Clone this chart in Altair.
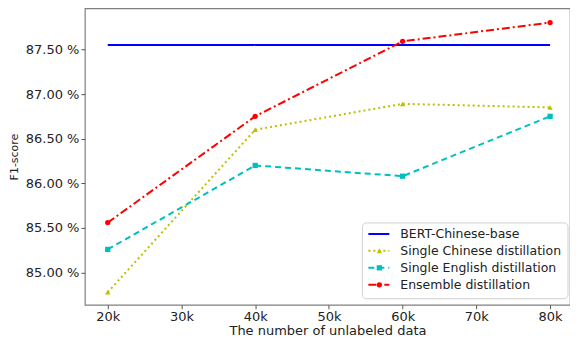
import altair as alt
import pandas as pd

x_k = [20, 40, 60, 80]
bert = [87.55, 87.55, 87.55, 87.55]
chinese = [84.78, 86.60, 86.89, 86.85]
english = [85.26, 86.20, 86.08, 86.75]
ensemble = [85.56, 86.75, 87.59, 87.80]

names = ["BERT-Chinese-base", "Single Chinese distillation",
         "Single English distillation", "Ensemble distillation"]
colors = ["#0000ff", "#bfbf00", "#00bfbf", "#ff0000"]
dashes = [[1, 0], [2, 3], [6, 4], [8, 3, 2, 3]]
shapes = ["circle", "triangle-up", "square", "circle"]

rows = []
for name, vals in zip(names, [bert, chinese, english, ensemble]):
    for x, v in zip(x_k, vals):
        rows.append({"x": x, "y": v, "series": name})
df = pd.DataFrame(rows)
legdf = pd.DataFrame({"series": names})

W, H = 486, 297

cscale = alt.Scale(domain=names, range=colors)
dscale = alt.Scale(domain=names, range=dashes)
sscale = alt.Scale(domain=names, range=shapes)

xs = alt.X("x:Q", scale=alt.Scale(domain=[16.9, 82.7], nice=False, zero=False),
           axis=alt.Axis(values=[20, 30, 40, 50, 60, 70, 80], labelExpr="datum.value + 'k'",
                         title="The number of unlabeled data", grid=False, titlePadding=1))
ys = alt.Y("y:Q", scale=alt.Scale(domain=[84.64, 87.96], nice=False, zero=False),
           axis=alt.Axis(values=[85.0, 85.5, 86.0, 86.5, 87.0, 87.5],
                         labelExpr="format(datum.value, '.2f') + ' %'",
                         title="F1-score", grid=False))

lines = alt.Chart(df).mark_line(strokeWidth=2).encode(
    x=xs, y=ys,
    color=alt.Color("series:N", scale=cscale, legend=None),
    strokeDash=alt.StrokeDash("series:N", scale=dscale, legend=None))
pts = alt.Chart(df[df.series != names[0]]).mark_point(filled=True, size=28, opacity=1).encode(
    x=xs, y=ys,
    color=alt.Color("series:N", scale=cscale, legend=None),
    shape=alt.Shape("series:N", scale=sscale, legend=None))
main = alt.layer(lines, pts)

# manual legend (matplotlib-style, lower right)
ly = alt.Y("series:N", scale=alt.Scale(type="point", domain=names, range=[226, 277], padding=0),
           axis=None)
lx0 = W - 208
box = alt.Chart(pd.DataFrame({"a": [0]})).mark_rect(
    fill="white", stroke="#cccccc", strokeWidth=1, cornerRadius=4, opacity=0.9).encode(
    x=alt.value(lx0), x2=alt.value(W - 2), y=alt.value(215), y2=alt.value(291))
lrule = alt.Chart(legdf).mark_rule(strokeWidth=2).encode(
    x=alt.value(lx0 + 6), x2=alt.value(lx0 + 27), y=ly,
    color=alt.Color("series:N", scale=cscale, legend=None),
    strokeDash=alt.StrokeDash("series:N", scale=dscale, legend=None))
lpt = alt.Chart(legdf[legdf.series != names[0]]).mark_point(filled=True, size=28, opacity=1).encode(
    x=alt.value(lx0 + 17), y=ly,
    color=alt.Color("series:N", scale=cscale, legend=None),
    shape=alt.Shape("series:N", scale=sscale, legend=None))
ltext = alt.Chart(legdf).mark_text(align="left", baseline="middle", fontSize=12.5,
                                   font="DejaVu Sans", color="#222222").encode(
    x=alt.value(lx0 + 38), y=ly, text="series:N")
legend = alt.layer(box, lrule, lpt, ltext)

chart = alt.layer(main, legend).resolve_scale(y="independent").properties(
    width=W, height=H, padding=0).configure_view(
    stroke="#808080", strokeWidth=1.2
).configure_axis(
    labelFont="DejaVu Sans", titleFont="DejaVu Sans", labelFontSize=13, titleFontSize=13,
    titleFontWeight="normal", labelColor="#222222", titleColor="#222222",
    domain=False, tickColor="#555555", tickSize=4
).configure_axisY(titleFontSize=11, titlePadding=6)

chart.save("out.html", embed_options={"renderer": "svg", "actions": False})
